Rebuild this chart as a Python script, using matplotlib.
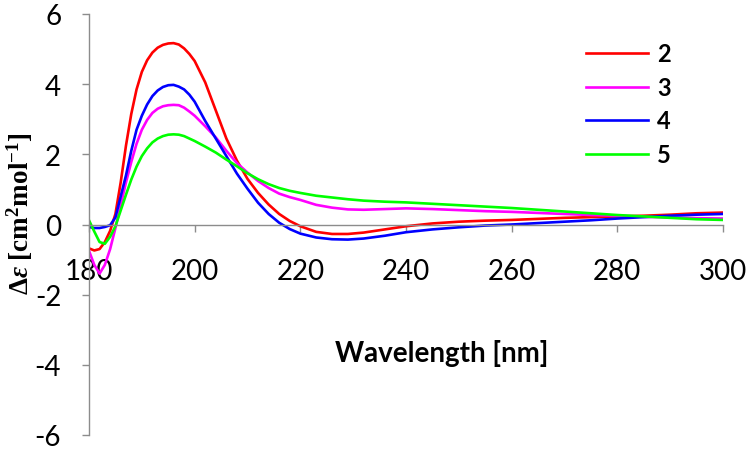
import numpy as np
import matplotlib
matplotlib.use("Agg")
import matplotlib.pyplot as plt

# wavelength grid (nm) and CD values
wl = [180, 181, 182, 183, 184, 185, 186, 187, 188, 189, 190, 191, 192, 193, 194,
      195, 196, 197, 198, 199, 200, 202, 204, 206, 208, 210, 212, 214, 216, 218,
      220, 223, 226, 229, 232, 236, 240, 245, 250, 255, 260, 265, 270, 275, 280,
      285, 290, 295, 300]

c2 = [-0.68, -0.74, -0.70, -0.50, -0.18, 0.30, 1.20, 2.25, 3.15, 3.85, 4.35, 4.68, 4.90, 5.04, 5.12,
      5.16, 5.17, 5.13, 5.02, 4.86, 4.66, 4.05, 3.25, 2.45, 1.82, 1.30, 0.90, 0.57, 0.30, 0.10,
      -0.05, -0.21, -0.27, -0.27, -0.23, -0.14, -0.05, 0.03, 0.08, 0.11, 0.13, 0.16, 0.19, 0.21, 0.23,
      0.25, 0.28, 0.32, 0.34]

c3 = [-0.75, -1.15, -1.40, -1.15, -0.70, -0.10, 0.55, 1.20, 1.78, 2.30, 2.70, 2.98, 3.18, 3.30, 3.37,
      3.40, 3.41, 3.40, 3.33, 3.22, 3.10, 2.80, 2.48, 2.10, 1.75, 1.48, 1.24, 1.04, 0.88, 0.78,
      0.70, 0.56, 0.48, 0.43, 0.42, 0.44, 0.46, 0.44, 0.41, 0.38, 0.36, 0.33, 0.30, 0.27, 0.25,
      0.22, 0.20, 0.18, 0.17]

c4 = [-0.07, -0.10, -0.10, -0.07, -0.02, 0.20, 0.80, 1.40, 2.10, 2.70, 3.10, 3.42, 3.66, 3.82, 3.92,
      3.97, 3.98, 3.93, 3.85, 3.70, 3.50, 2.95, 2.45, 1.95, 1.45, 1.02, 0.62, 0.30, 0.05, -0.13,
      -0.26, -0.37, -0.42, -0.43, -0.40, -0.32, -0.22, -0.14, -0.08, -0.03, 0.00, 0.04, 0.08, 0.12, 0.17,
      0.21, 0.25, 0.28, 0.30]

c5 = [0.12, -0.20, -0.50, -0.55, -0.35, -0.05, 0.40, 0.85, 1.28, 1.65, 1.95, 2.17, 2.34, 2.45, 2.52,
      2.56, 2.57, 2.56, 2.52, 2.45, 2.38, 2.22, 2.05, 1.85, 1.66, 1.46, 1.29, 1.15, 1.04, 0.96,
      0.90, 0.82, 0.77, 0.72, 0.68, 0.65, 0.63, 0.59, 0.55, 0.51, 0.47, 0.42, 0.37, 0.32, 0.27,
      0.23, 0.19, 0.15, 0.13]

labels = ["2", "3", "4", "5"]
colors = ["#ff0000", "#ff00ff", "#0000ff", "#00ff00"]

plt.rcParams['axes.unicode_minus'] = False
plt.rcParams['font.family'] = ['Lato', 'DejaVu Sans']
plt.rcParams['mathtext.fontset'] = 'custom'
plt.rcParams['mathtext.rm'] = 'Liberation Serif:bold'
plt.rcParams['mathtext.it'] = 'Liberation Serif:italic:bold'
plt.rcParams['mathtext.bf'] = 'Liberation Serif:bold'

fig = plt.figure(figsize=(7.5, 4.52), dpi=100)
ax = fig.add_axes([89/750, 1-436/452, (723-89)/750, (436-15)/452])

for y, lab, col in zip([c2, c3, c4, c5], labels, colors):
    ax.plot(wl, y, color=col, lw=1.9, label=lab)

ax.set_xlim(180, 300)
ax.set_ylim(-6, 6)
ax.set_xticks(np.arange(180, 301, 20))
ax.set_yticks(np.arange(-6, 7, 2))

ax.spines['top'].set_visible(False)
ax.spines['right'].set_visible(False)
ax.spines['bottom'].set_position(('data', 0))
for s in ['left', 'bottom']:
    ax.spines[s].set_color('#8c8c8c')
    ax.spines[s].set_linewidth(1.0)

ax.tick_params(axis='x', direction='out', length=5, width=1, color='#8c8c8c',
               labelsize=20, pad=19)
ax.tick_params(axis='y', direction='out', length=5, width=1, color='#8c8c8c',
               labelsize=20, pad=15)

fig.text(442/750, 1-354/452, "Wavelength [nm]", ha='center', va='center',
         fontsize=20, fontweight='bold')
fig.text(20/750, 1-214/452, r"$\Delta\mathit{\varepsilon}$ [cm$^{2}$mol$^{-1}$]",
         rotation=90, ha='center', va='center', fontsize=19.5,
         family='Liberation Serif', fontweight='bold')

leg = ax.legend(loc='upper left', bbox_to_anchor=(565/750, 1-22/452),
                bbox_transform=fig.transFigure, frameon=False,
                handlelength=2.6, handletextpad=0.4, labelspacing=0.45,
                prop={'size': 17, 'weight': 'bold'})

fig.savefig("out.png", dpi=100)
